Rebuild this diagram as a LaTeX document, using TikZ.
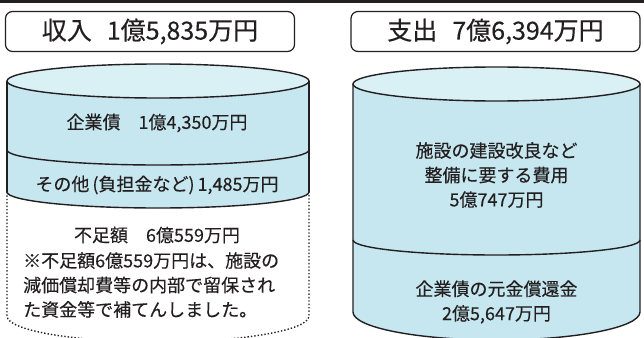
\documentclass[tikz,border=0pt]{standalone}
\usepackage{fontspec}
\setmainfont{Noto Sans CJK JP}[FakeBold=0.3]
\definecolor{cylside}{HTML}{C6E7EF}
\definecolor{cyltop}{HTML}{D9F0F4}
\definecolor{ink}{HTML}{231F20}
\tikzset{
  outline/.style={draw=ink, line width=1.4pt},
  dotline/.style={draw=ink, line width=1.4pt, dotted},
  titlebox/.style={draw=ink, line width=1.2pt, rounded corners=7pt, fill=white,
    minimum width=289pt, minimum height=40pt, inner sep=0pt, text=ink,
    font=\fontsize{25}{28}\selectfont},
  bodytext/.style={text=ink, inner sep=0pt, font=\fontsize{18}{24.5}\selectfont},
}
\begin{document}
\begin{tikzpicture}[x=1pt,y=-1pt]
\useasboundingbox (0,0) rectangle (644,337);
\clip (0,0) rectangle (644,337);
\fill[ink] (0,0) rectangle (644,3);

% title boxes
\node[titlebox] (inTitle) at (150,31.5) {収入\hspace{0.6em}1億5,835万円};
\node[titlebox] (outTitle) at (495.5,31.5) {支出\hspace{0.6em}7億6,394万円};

% left cylinder
\fill[cylside] (7,81) -- (7,192) arc[start angle=180,end angle=360,x radius=151pt,y radius=16pt] -- (309,81) -- cycle;
\draw[outline] (7,81) -- (7,192);
\draw[outline] (309,81) -- (309,192);
\draw[outline] (7,150) arc[start angle=180,end angle=360,x radius=151pt,y radius=15pt];
\draw[outline] (7,192) arc[start angle=180,end angle=360,x radius=151pt,y radius=16pt];
\draw[dotline] (7,192) -- (7,316) arc[start angle=180,end angle=360,x radius=151pt,y radius=26pt] -- (309,192);
\filldraw[outline, fill=cyltop] (158,81) ellipse [x radius=151pt, y radius=17pt];

% right cylinder
\fill[cylside] (353,84) -- (353,312) arc[start angle=180,end angle=360,x radius=143.5pt,y radius=28pt] -- (640,84) -- cycle;
\draw[outline] (353,84) -- (353,312) arc[start angle=180,end angle=360,x radius=143.5pt,y radius=28pt] -- (640,84);
\draw[outline] (353,240) arc[start angle=180,end angle=360,x radius=143.5pt,y radius=15pt];
\filldraw[outline, fill=cyltop] (496.5,84) ellipse [x radius=143.5pt, y radius=17pt];

% texts
\node[bodytext] (bond) at (157,123) {企業債　1億4,350万円};
\node[bodytext] (other) at (157,185) {その他\,(負担金など)\,1,485万円};
\node[bodytext] (lack) at (157,235) {不足額　6億559万円};
\node[bodytext, anchor=north west, align=left] (note) at (23,252) {※不足額6億559万円は、施設の\\減価償却費等の内部で留保され\\た資金等で補てんしました。};
\node[bodytext, align=center] (build) at (496.5,175) {施設の建設改良など\\整備に要する費用\\5億747万円};
\node[bodytext, align=center] (repay) at (496.5,302) {企業債の元金償還金\\2億5,647万円};
\end{tikzpicture}
\end{document}
